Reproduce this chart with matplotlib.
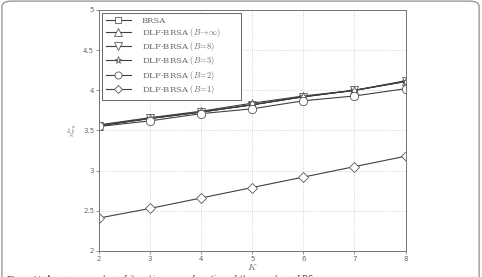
import numpy as np
import matplotlib
matplotlib.use("Agg")
import matplotlib.pyplot as plt
from matplotlib.patches import FancyBboxPatch

plt.rcParams['mathtext.fontset'] = 'cm'

# data
K = [2, 3, 4, 5, 6, 7, 8]
brsa = [3.56, 3.65, 3.73, 3.82, 3.92, 4.00, 4.11]
b_inf = [3.56, 3.65, 3.73, 3.82, 3.92, 4.00, 4.11]
b_8 = [3.56, 3.65, 3.73, 3.82, 3.92, 4.00, 4.11]
b_3 = [3.57, 3.66, 3.74, 3.84, 3.93, 4.00, 4.12]
b_2 = [3.55, 3.62, 3.71, 3.77, 3.87, 3.93, 4.02]
b_1 = [2.41, 2.53, 2.66, 2.79, 2.92, 3.05, 3.18]

labels = ['BRSA',
          r'DLF-BRSA $(B\!\rightarrow\!\infty)$',
          r'DLF-BRSA $(B\!=\!8)$',
          r'DLF-BRSA $(B\!=\!3)$',
          r'DLF-BRSA $(B\!=\!2)$',
          r'DLF-BRSA $(B\!=\!1)$']
series = [brsa, b_inf, b_8, b_3, b_2, b_1]
markers = ['s', '^', 'v', '*', 'o', 'D']
msizes = [5, 6, 6, 6, 6, 5]

fig = plt.figure(figsize=(4.82, 2.77), dpi=100)
ax = fig.add_axes([0.2054, 0.0939, 0.636, 0.870])

for ys, lab, m, ms in zip(series, labels, markers, msizes):
    ax.plot(K, ys, color='0.25', lw=0.8, marker=m, ms=ms,
            mfc='white', mec='0.35', mew=0.6, label=lab)

ax.set_xlim(2, 8)
ax.set_ylim(2, 5)
ax.set_xticks(K)
ax.set_yticks([2, 2.5, 3, 3.5, 4, 4.5, 5])
ax.set_yticklabels(['2', '2.5', '3', '3.5', '4', '4.5', '5'])
ax.tick_params(labelsize=5, colors='0.4', length=2, width=0.5, pad=1.5)
for s in ax.spines.values():
    s.set_color('0.45')
    s.set_linewidth(0.7)
ax.grid(True, linestyle=':', color='0.75', lw=0.5)

ax.set_xlabel(r'$K$', fontsize=7, color='0.4', labelpad=0)
ax.set_ylabel(r'$n_{\rm avg}^{\rm itr}$', fontsize=5, color='0.4', labelpad=2)

leg = ax.legend(loc='upper left', bbox_to_anchor=(0.01, 0.988, 0.453, 0.0),
                mode='expand', frameon=True, fancybox=False, framealpha=1,
                edgecolor='0.4', handlelength=3.0, labelspacing=0.15,
                borderaxespad=0.0, handletextpad=1.3, borderpad=0.45,
                markerscale=0.85,
                prop={'family': 'DejaVu Serif', 'size': 6})
leg.get_frame().set_linewidth(0.7)
for t in leg.get_texts():
    t.set_color('0.4')

# caption (partly cut off at the bottom)
fig.text(0.012, -0.008,
         r'$\bf{Figure\ 14}$  Average number of iterations as a function of the number of BS',
         fontsize=6, color='0.3', ha='left', va='center')

# outer frame of the figure panel
frame = FancyBboxPatch((0.004, -0.05), 0.99, 1.046, transform=fig.transFigure,
                       boxstyle='round,pad=0,rounding_size=0.02',
                       fc='none', ec='0.6', lw=1.0, clip_on=False)
fig.patches.append(frame)

fig.savefig('out.png', dpi=100)
